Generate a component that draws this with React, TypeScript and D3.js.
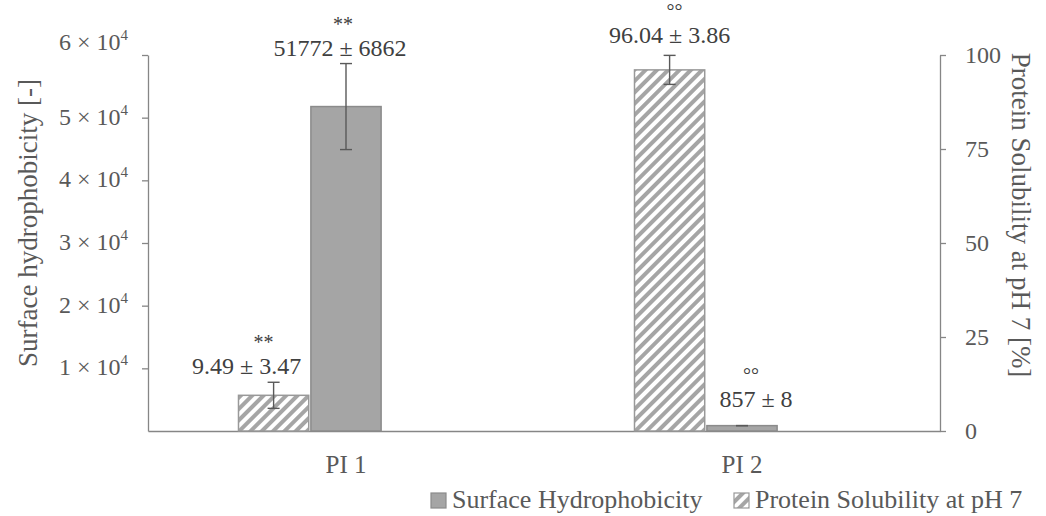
import { useEffect, useRef } from "react";
import * as d3 from "d3";

const categories = ["PI 1", "PI 2"];
const seriesNames = ["Protein Solubility at pH 7", "Surface Hydrophobicity", "spacer"];

const hydrophobicity = [51772, 857];
const hydrophobicitySd = [6862, 8];
const solubility = [9.49, 96.04];
const solubilitySd = [3.47, 3.86];

const hydrophobicityMarks = ["**", "°°"];
const solubilityMarks = ["**", "°°"];

const leftTicks = [10000, 20000, 30000, 40000, 50000, 60000];
const rightTicks = [0, 25, 50, 75, 100];

// label placement relative to bar centre / error bar top (hand-moved in the original)
const solLabelPos = [
  { dx: -27, dy: -8, mdx: -10, mdy: -33 },
  { dx: 0, dy: -12, mdx: 5, mdy: -37 },
];
const hydroLabelPos = [
  { dx: -6, dy: -8, mdx: -3, mdy: -33 },
  { dx: 14, dy: -19, mdx: 9, mdy: -44 },
];

const W = 1046;
const H = 516;
const FONT = "Liberation Serif, Tinos, Times New Roman, DejaVu Serif, serif";
const AXIS = "#868686";
const TEXT = "#595959";
const LABEL = "#404040";
const BAR = "#a5a5a5";

const App = () => {
  const ref = useRef<HTMLDivElement>(null);

  useEffect(() => {
    const svg = d3
      .select(ref.current)
      .html("")
      .append("svg")
      .attr("width", W)
      .attr("height", H)
      .style("position", "absolute")
      .style("left", "0px")
      .style("top", "0px")
      .style("background", "#fff")
      .style("font-family", FONT);

    const pat = svg
      .append("defs")
      .append("pattern")
      .attr("id", "hatch")
      .attr("patternUnits", "userSpaceOnUse")
      .attr("width", 8)
      .attr("height", 8)
      .attr("patternTransform", "rotate(45)");
    pat.append("rect").attr("width", 8).attr("height", 8).attr("fill", "#fff");
    pat.append("rect").attr("width", 4).attr("height", 8).attr("fill", BAR);

    const x0 = d3.scaleBand().domain(categories).range([148, 940]);
    const x1 = d3
      .scaleBand()
      .domain(seriesNames)
      .range([0, x0.bandwidth()])
      .paddingInner(0.03)
      .paddingOuter(1.25);

    const yL = d3.scaleLinear().domain([0, 60000]).range([431, 55]);
    const yR = d3.scaleLinear().domain([0, 100]).range([431, 55]);

    // axes
    const left = svg
      .append("g")
      .attr("transform", "translate(148,0)")
      .call(
        d3
          .axisLeft(yL)
          .tickValues(leftTicks)
          .tickSize(6)
          .tickSizeOuter(0)
          .tickFormat(() => "")
      );
    left.selectAll("path, line").attr("stroke", AXIS).attr("stroke-width", 1.3);

    leftTicks.forEach((t, i) => {
      const shift = i === leftTicks.length - 1 ? -12 : 0;
      const txt = svg
        .append("text")
        .attr("x", 128)
        .attr("y", yL(t) + 7 + shift)
        .attr("text-anchor", "end")
        .style("font-family", FONT)
        .attr("font-size", 24)
        .attr("fill", TEXT);
      txt.append("tspan").text(`${t / 10000} × 10`);
      txt.append("tspan").attr("font-size", 15).attr("dy", -10).text("4");
    });

    const right = svg
      .append("g")
      .attr("transform", "translate(940,0)")
      .call(
        d3
          .axisRight(yR)
          .tickValues(rightTicks)
          .tickSize(6)
          .tickSizeOuter(0)
          .tickPadding(19)
      );
    right.selectAll("path, line").attr("stroke", AXIS).attr("stroke-width", 1.3);
    right
      .selectAll("text")
      .style("font-family", FONT)
      .attr("font-size", 24)
      .attr("fill", TEXT);

    const bottom = svg
      .append("g")
      .attr("transform", "translate(0,431)")
      .call(d3.axisBottom(x0).tickSize(0).tickSizeOuter(0).tickPadding(24));
    bottom.select("path").attr("stroke", AXIS).attr("stroke-width", 1.3);
    bottom
      .selectAll("text")
      .style("font-family", FONT)
      .attr("font-size", 25)
      .attr("fill", TEXT);

    // axis titles
    svg
      .append("text")
      .attr("transform", "translate(37,223) rotate(-90)")
      .attr("text-anchor", "middle")
      .attr("font-size", 27)
      .attr("fill", TEXT)
      .text("Surface hydrophobicity [-]");
    svg
      .append("text")
      .attr("transform", "translate(1012,215) rotate(90)")
      .attr("text-anchor", "middle")
      .attr("font-size", 27)
      .attr("fill", TEXT)
      .text("Protein Solubility at pH 7 [%]");

    // bars
    const solX = (i: number) => x0(categories[i])! + x1(seriesNames[0])!;
    const hydX = (i: number) => x0(categories[i])! + x1(seriesNames[1])!;
    const bw = x1.bandwidth();

    svg
      .append("g")
      .selectAll("rect")
      .data(solubility)
      .enter()
      .append("rect")
      .attr("x", (_, i) => solX(i))
      .attr("y", (d) => yR(d))
      .attr("width", bw)
      .attr("height", (d) => 431 - yR(d))
      .attr("fill", "url(#hatch)")
      .attr("stroke", "#999")
      .attr("stroke-width", 1.5);

    svg
      .append("g")
      .selectAll("rect")
      .data(hydrophobicity)
      .enter()
      .append("rect")
      .attr("x", (_, i) => hydX(i))
      .attr("y", (d) => yL(d))
      .attr("width", bw)
      .attr("height", (d) => 431 - yL(d))
      .attr("fill", BAR)
      .attr("stroke", "#8b8b8b")
      .attr("stroke-width", 1.5);

    // error bars + labels
    const drawErr = (cx: number, y1: number, y2: number) => {
      const g = svg.append("g").attr("stroke", "#595959").attr("stroke-width", 1.4);
      g.append("line").attr("x1", cx).attr("x2", cx).attr("y1", y1).attr("y2", y2);
      g.append("line").attr("x1", cx - 6).attr("x2", cx + 6).attr("y1", y1).attr("y2", y1);
      g.append("line").attr("x1", cx - 6).attr("x2", cx + 6).attr("y1", y2).attr("y2", y2);
    };

    const drawLabel = (
      cx: number,
      top: number,
      text: string,
      mark: string,
      p: { dx: number; dy: number; mdx: number; mdy: number }
    ) => {
      svg
        .append("text")
        .attr("x", cx + p.mdx)
        .attr("y", top + p.mdy)
        .attr("text-anchor", "middle")
        .attr("font-size", 20)
        .attr("fill", LABEL)
        .text(mark);
      svg
        .append("text")
        .attr("x", cx + p.dx)
        .attr("y", top + p.dy)
        .attr("text-anchor", "middle")
        .attr("font-size", 24)
        .attr("fill", LABEL)
        .text(text);
    };

    solubility.forEach((v, i) => {
      const cx = solX(i) + bw / 2;
      const sd = solubilitySd[i];
      drawErr(cx, yR(v + sd), yR(v - sd));
      drawLabel(cx, yR(v + sd), `${v.toFixed(2)} ± ${sd.toFixed(2)}`, solubilityMarks[i], solLabelPos[i]);
    });

    hydrophobicity.forEach((v, i) => {
      const cx = hydX(i) + bw / 2;
      const sd = hydrophobicitySd[i];
      drawErr(cx, yL(v + sd), yL(v - sd));
      drawLabel(cx, yL(v + sd), `${v} ± ${sd}`, hydrophobicityMarks[i], hydroLabelPos[i]);
    });

    // legend
    const legend = [
      { name: "Surface Hydrophobicity", fill: BAR, stroke: "#8b8b8b", x: 431 },
      { name: "Protein Solubility at pH 7", fill: "url(#hatch)", stroke: "#999", x: 734 },
    ];
    legend.forEach((l) => {
      svg
        .append("rect")
        .attr("x", l.x)
        .attr("y", 493)
        .attr("width", 15)
        .attr("height", 15)
        .attr("fill", l.fill)
        .attr("stroke", l.stroke)
        .attr("stroke-width", 1.2);
      svg
        .append("text")
        .attr("x", l.x + 21)
        .attr("y", 508)
        .attr("font-size", 26)
        .attr("fill", TEXT)
        .text(l.name);
    });
  }, []);

  return <div ref={ref} />;
};

export default App;
